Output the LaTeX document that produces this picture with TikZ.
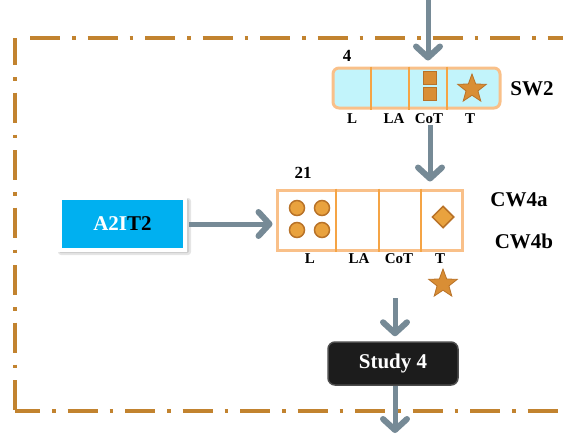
\documentclass[tikz,border=0pt]{standalone}
\usepackage{fontspec}
\setmainfont{Liberation Serif}
\usetikzlibrary{arrows.meta,shapes.geometric,shadows}
\definecolor{frameC}{HTML}{C2832F}
\definecolor{arrC}{HTML}{768A96}
\definecolor{boxO}{HTML}{F9C089}
\definecolor{divO}{HTML}{F5A445}
\definecolor{cyanF}{HTML}{C2F4FB}
\definecolor{shapeF}{HTML}{D98E35}
\definecolor{shapeD}{HTML}{B87228}
\definecolor{circF}{HTML}{E9A23E}
\definecolor{blueF}{HTML}{00B0F0}
\definecolor{darkF}{HTML}{1C1C1C}
\begin{document}
\begin{tikzpicture}[x=1pt,y=-1pt,
  frameline/.style={frameC, line width=3.2pt, dash pattern=on 30pt off 12pt on 3.5pt off 12pt},
  flow/.style={arrC, line width=5pt, -{Straight Barb[length=11pt,width=24pt,line width=6pt,round]}},
  lbl/.style={font=\bfseries\fontsize{15}{15}\selectfont, inner sep=0pt},
  big/.style={font=\bfseries\fontsize{21}{21}\selectfont, inner sep=0pt},
  num/.style={font=\bfseries\fontsize{17}{17}\selectfont, inner sep=0pt},
  divider/.style={divO, line width=2pt},
  starmark/.style={star, star points=5, star point ratio=2.4, minimum size=30pt, inner sep=0pt, fill=shapeF, draw=shapeD, line width=0.8pt},
  sqmark/.style={rectangle, minimum size=13pt, inner sep=0pt, fill=shapeF, draw=shapeD, line width=1.5pt},
  circmark/.style={circle, minimum size=15pt, inner sep=0pt, fill=circF, draw=shapeD, line width=1.5pt},
]
\useasboundingbox (0,0) rectangle (563,434);

% frame
\draw[frameline] (30,38) -- (563,38);
\draw[frameline, dash phase=3pt] (15,38) -- (15,411);
\draw[frameline, dash phase=5pt] (15,411) -- (563,411);

% SW2 box
\node[draw=boxO, fill=cyanF, line width=3pt, rounded corners=6pt, minimum width=167pt, minimum height=40pt, inner sep=0pt] (sw2) at (416.5,88) {};
\foreach \dx in {39,77,115} {
  \draw[divider] ([xshift=\dx pt]sw2.north west) -- ([xshift=\dx pt]sw2.south west);
}
\node[sqmark] (sqa) at (430,78) {};
\node[sqmark] (sqb) at (430,94) {};
\node[starmark] (sta) at (472,89) {};
\node[num] (n4) at (347,56) {4};
\node[lbl] (swL) at (352,119) {L};
\node[lbl] (swLA) at (394,119) {LA};
\node[lbl] (swCoT) at (429,119) {CoT};
\node[lbl] (swT) at (470,119) {T};
\node[big] (sw2lbl) at (532,89) {SW2};

% CW box
\node[draw=boxO, line width=3pt, minimum width=185pt, minimum height=60pt, inner sep=0pt] (cw) at (369.5,220) {};
\foreach \dx in {60,103,145} {
  \draw[divider] ([xshift=\dx pt]cw.north west) -- ([xshift=\dx pt]cw.south west);
}
\node[circmark] (c1) at (297,208) {};
\node[circmark] (c2) at (322,208) {};
\node[circmark] (c3) at (297,230) {};
\node[circmark] (c4) at (322,230) {};
\node[diamond, minimum size=22pt, inner sep=0pt, fill=circF, draw=shapeD, line width=1.5pt] (dm) at (443,217) {};
\node[num] (n21) at (303,173) {21};
\node[lbl] (cwL) at (310,259) {L};
\node[lbl] (cwLA) at (359,259) {LA};
\node[lbl] (cwCoT) at (399,259) {CoT};
\node[lbl] (cwT) at (440,259) {T};
\node[starmark] (stb) at (443,284) {};
\node[big] (cw4a) at (519,200) {CW4a};
\node[big] (cw4b) at (524,241) {CW4b};

% A2IT2 (shadow drawn behind)
\fill[black, opacity=0.10, rounded corners=3pt] (58,198) rectangle (191,255);
\fill[black, opacity=0.10, rounded corners=2pt] (59,199) rectangle (189,253);
\node[fill=blueF, draw=white, line width=4pt, minimum width=125pt, minimum height=52pt, inner sep=0pt,
      font=\bfseries\fontsize{21}{21}\selectfont] (a2) at (122.5,224) {\textcolor{white}{A2I}T2};

% Study 4
\node[fill=darkF, draw=black!70, line width=1.5pt, rounded corners=7pt, minimum width=130pt, minimum height=43pt, inner sep=0pt,
      text=white, font=\bfseries\fontsize{21}{21}\selectfont] (study) at (393,363.5) {Study 4};

% connectors
\coordinate (topin) at (428,0);
\draw[flow] (topin) -- ([yshift=6pt]sw2.north -| topin);
\coordinate (swout) at (430,125);
\draw[flow] (swout) -- ([yshift=7pt]cw.north -| swout);
\draw[flow, shorten >=3pt] ([xshift=2pt]a2.east) -- (a2.east -| cw.west);
\coordinate (cwout) at (395,298);
\draw[flow] (cwout) -- ([yshift=5pt]study.north -| cwout);
\coordinate (out) at (395,433);
\draw[flow] (study.south -| out) -- (out);
\end{tikzpicture}
\end{document}
